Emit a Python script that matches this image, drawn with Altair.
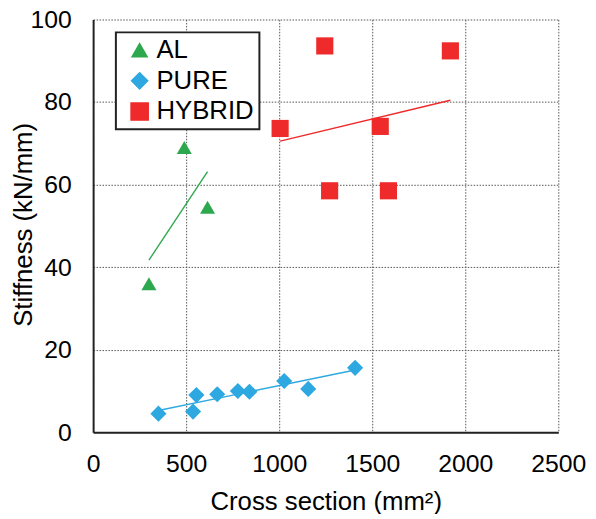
import altair as alt
import pandas as pd

al_x = [300, 490, 615]
al_y = [36.0, 69.0, 54.5]
pure_x = [351, 537, 555, 667, 778, 840, 1027, 1156, 1408]
pure_y = [4.5, 5.0, 9.0, 9.2, 10.0, 9.8, 12.4, 10.5, 15.6]
hyb_x = [1005, 1245, 1271, 1543, 1587, 1920]
hyb_y = [73.6, 93.6, 58.5, 74.1, 58.5, 92.4]

series = ["AL", "PURE", "HYBRID"]
colors = ["#2EA84E", "#2EA8E0", "#EE2A2A"]
shapes = ["triangle-up", "diamond", "square"]
sizes = [230, 300, 205]
x_ticks = [0, 500, 1000, 1500, 2000, 2500]
y_ticks = [0, 20, 40, 60, 80, 100]

rows = []
for name, xs, ys in [("AL", al_x, al_y), ("PURE", pure_x, pure_y), ("HYBRID", hyb_x, hyb_y)]:
    for a, b in zip(xs, ys):
        rows.append({"series": name, "x": a, "y": b})
df = pd.DataFrame(rows)

FONT = "Liberation Sans"

xenc = alt.X("x:Q", scale=alt.Scale(domain=[0, 2500], nice=False),
             axis=alt.Axis(values=x_ticks, format="d", labelOverlap=False, labelFlush=False,
                           title="Cross section (mm\u00b2)", titleY=78,
                           titleBaseline="alphabetic", labelPadding=20))
yenc = alt.Y("y:Q", scale=alt.Scale(domain=[0, 100], nice=False),
             axis=alt.Axis(values=y_ticks, format="d", labelOverlap=False, labelFlush=False,
                           title="Stiffness (kN/mm)", titleX=-70, titleY=207,
                           titleBaseline="middle", labelPadding=22))

legend = alt.Legend(title=None, orient="none", legendX=23, legendY=13,
                    fillColor="white", strokeColor="#222",
                    padding=5, symbolSize=230, labelFontSize=26, labelFont=FONT,
                    symbolOffset=6, labelOffset=4, rowPadding=5,
                    labelColor="black", labelExpr="datum.label + '  '")

color = alt.Color("series:N", scale=alt.Scale(domain=series, range=colors), legend=legend)
shape = alt.Shape("series:N", scale=alt.Scale(domain=series, range=shapes), legend=legend)
size = alt.Size("series:N", scale=alt.Scale(domain=series, range=sizes), legend=None)

points = alt.Chart(df).mark_point(filled=True, opacity=1).encode(
    x=xenc, y=yenc, color=color, shape=shape, size=size)

lines = alt.Chart(df).transform_regression(
    "x", "y", groupby=["series"]
).mark_line(strokeWidth=1.4).encode(
    x="x:Q", y="y:Q", color=color)

chart = alt.layer(lines, points).properties(
    width=470, height=417,
    autosize=alt.AutoSizeParams(type="none"),
    padding={"left": 86, "top": 9, "right": 30, "bottom": 80},
).configure_view(stroke=None).configure_axis(
    labelFont=FONT, titleFont=FONT, labelFontSize=25, titleFontSize=26,
    labelColor="black", titleColor="black", titleFontWeight="normal",
    domainColor="#222", domainWidth=2, ticks=False, tickSize=0,
    gridColor="#555", gridDash=[1.5, 1.5], gridWidth=1,
).configure_legend(strokeWidth=2)

chart.save("out.html", embed_options={"renderer": "svg", "actions": False})
